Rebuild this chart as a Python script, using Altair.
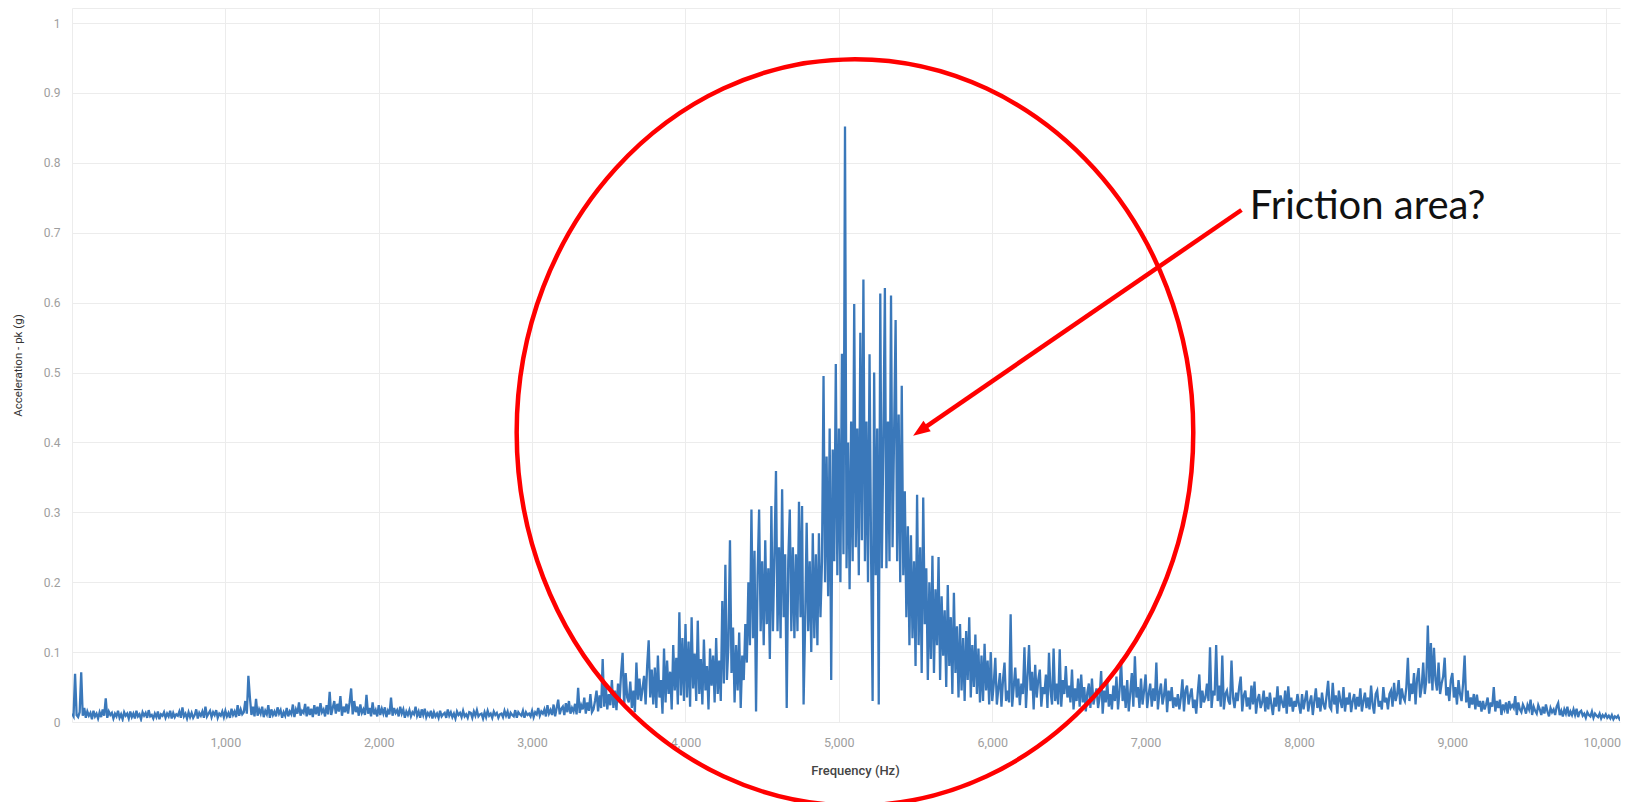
import altair as alt
import numpy as np
import pandas as pd

# ---------------- spectrum values (milli-g) ----------------
# segment A: 0 .. 3790 Hz, 10 Hz bins (one row = 200 Hz)
seg_a_start, seg_a_step = 0, 10
seg_a = [
    12, 8, 69, 10, 7, 14, 71, 9, 20, 6, 15, 9, 13, 4, 16, 8, 12, 5, 14, 7,
    18, 9, 34, 6, 15, 10, 13, 5, 12, 8, 16, 6, 11, 4, 14, 9, 12, 5, 15, 7,
    12, 5, 16, 8, 11, 4, 14, 9, 13, 6, 17, 8, 10, 5, 12, 7, 15, 4, 11, 9,
    14, 6, 12, 8, 16, 5, 13, 7, 11, 9, 15, 6, 21, 8, 12, 5, 14, 7, 13, 6,
    10, 18, 5, 13, 9, 15, 6, 22, 8, 12, 16, 7, 14, 10, 17, 6, 12, 9, 15, 7,
    16, 8, 13, 6, 19, 10, 15, 7, 24, 9, 18, 11, 14, 30, 12, 66, 35, 10, 22, 8,
    33, 9, 18, 12, 22, 7, 16, 11, 24, 6, 18, 10, 15, 8, 21, 12, 17, 6, 14, 9,
    20, 8, 15, 11, 25, 7, 18, 12, 28, 9, 16, 13, 26, 8, 22, 10, 19, 7, 24, 11,
    22, 9, 27, 14, 18, 8, 24, 11, 43, 10, 20, 30, 12, 26, 15, 37, 9, 22, 14, 26,
    12, 28, 48, 11, 30, 14, 22, 9, 25, 13, 18, 10, 39, 12, 20, 8, 28, 11, 17, 8,
    24, 10, 19, 12, 21, 7, 16, 11, 35, 9, 20, 13, 17, 8, 22, 12, 18, 6, 15, 10,
    17, 8, 14, 11, 22, 9, 15, 6, 18, 10, 19, 7, 13, 9, 16, 5, 14, 8, 12, 6,
    16, 8, 11, 13, 6, 18, 9, 14, 7, 12, 5, 15, 10, 13, 7, 16, 8, 11, 6, 14,
    13, 6, 15, 9, 17, 8, 11, 12, 5, 14, 7, 16, 9, 12, 6, 15, 10, 13, 6, 11,
    12, 7, 16, 9, 15, 5, 13, 10, 8, 17, 6, 14, 11, 9, 16, 6, 14, 10, 12, 8,
    16, 7, 14, 11, 20, 9, 15, 12, 18, 8, 24, 12, 17, 10, 25, 8, 20, 32, 11, 19,
    22, 10, 27, 14, 30, 12, 20, 15, 26, 11, 49, 13, 24, 18, 35, 12, 28, 16, 40, 14,
    18, 30, 45, 15, 38, 20, 90, 22, 52, 18, 40, 24, 60, 20, 45, 17, 55, 28, 70, 99,
    22, 70, 35, 28, 58, 20, 45, 14, 85, 32, 62, 30, 48, 66, 25, 80, 117, 35, 75, 25,
]

# segment B: 3800 .. 5990 Hz, 10 Hz bins (the friction hump, one row = 100 Hz)
seg_b_start, seg_b_step = 3800, 10
seg_b = [
    78, 20, 95, 35, 60, 12, 105, 28, 88, 40,
    72, 18, 110, 45, 92, 25, 157, 38, 120, 30,
    140, 35, 115, 22, 150, 48, 98, 30, 145, 40,
    90, 25, 118, 45, 80, 18, 105, 52, 95, 28,
    120, 40, 88, 30, 173, 55, 225, 60, 110, 260,
    70, 135, 28, 110, 45, 128, 20, 95, 60, 140,
    85, 200, 110, 304, 120, 245, 15, 210, 304, 130,
    230, 110, 260, 140, 220, 90, 309, 130, 240, 359,
    130, 250, 120, 333, 150, 240, 20, 230, 304, 130,
    250, 120, 240, 130, 315, 150, 309, 25, 140, 285,
    130, 230, 100, 270, 120, 240, 110, 270, 150, 230,
    495, 200, 380, 180, 420, 60, 390, 230, 512, 210,
    420, 200, 527, 240, 852, 220, 400, 190, 430, 230,
    598, 250, 420, 210, 557, 260, 633, 230, 430, 200,
    526, 240, 30, 500, 210, 420, 25, 613, 220, 400,
    621, 220, 430, 230, 610, 250, 410, 575, 230, 440,
    200, 481, 210, 330, 150, 280, 110, 267, 120, 230,
    80, 325, 110, 250, 70, 321, 140, 220, 60, 200,
    90, 238, 70, 190, 110, 236, 60, 180, 95, 160,
    50, 196, 80, 150, 40, 185, 70, 137, 35, 140,
    45, 120, 30, 130, 60, 150, 35, 110, 50, 125,
    40, 105, 28, 95, 30, 112, 45, 88, 25, 100,
]

# segment C: 6000 .. 10160 Hz, 10 Hz bins (one row = 200 Hz)
seg_c_start, seg_c_step = 6000, 10
seg_c = [
    30, 55, 92, 25, 48, 70, 22, 60, 85, 30, 45, 28, 154, 22, 50, 78, 35, 62, 24, 55,
    40, 107, 20, 65, 110, 45, 72, 18, 82, 35, 60, 75, 22, 50, 40, 68, 20, 99, 45, 25,
    105, 30, 55, 25, 104, 22, 60, 40, 80, 35, 52, 28, 75, 18, 48, 30, 62, 22, 68, 28,
    50, 15, 42, 55, 20, 62, 25, 38, 48, 20, 35, 73, 12, 45, 28, 58, 22, 40, 18, 52,
    30, 65, 18, 45, 89, 30, 52, 20, 60, 15, 42, 70, 22, 94, 35, 50, 20, 62, 25, 45,
    68, 20, 40, 55, 22, 48, 30, 85, 18, 42, 55, 25, 38, 62, 14, 45, 30, 50, 20, 35,
    22, 40, 18, 35, 61, 15, 45, 52, 25, 38, 48, 20, 32, 12, 42, 68, 20, 45, 28, 35,
    55, 30, 107, 20, 45, 38, 110, 30, 52, 22, 95, 18, 40, 45, 30, 25, 88, 35, 20, 42,
    30, 50, 65, 15, 38, 45, 22, 35, 18, 52, 25, 58, 12, 32, 40, 20, 28, 45, 15, 36,
    18, 42, 25, 10, 35, 22, 51, 15, 38, 28, 20, 45, 12, 51, 22, 35, 15, 30, 22, 40,
    25, 12, 40, 18, 32, 45, 15, 28, 38, 10, 30, 48, 20, 35, 15, 42, 25, 18, 38, 59,
    22, 18, 56, 25, 38, 12, 45, 30, 20, 50, 15, 35, 25, 42, 14, 30, 40, 18, 36, 22,
    48, 15, 30, 42, 20, 35, 18, 52, 25, 12, 40, 45, 22, 30, 18, 50, 28, 35, 18, 40,
    45, 22, 56, 30, 40, 60, 25, 48, 35, 30, 50, 92, 30, 55, 40, 70, 25, 62, 77, 35,
    50, 85, 40, 60, 138, 55, 113, 45, 106, 60, 45, 85, 40, 55, 65, 92, 38, 50, 30, 60,
    70, 35, 50, 25, 60, 40, 30, 55, 95, 28, 45, 20, 35, 25, 40, 18, 39, 22, 30, 15,
    30, 18, 25, 35, 12, 28, 22, 50, 15, 30, 20, 32, 10, 25, 18, 28, 12, 30, 20, 24,
    20, 37, 10, 28, 18, 14, 25, 20, 12, 24, 18, 32, 10, 22, 16, 12, 24, 18, 10, 22,
    12, 25, 15, 8, 20, 14, 18, 10, 22, 27, 10, 16, 8, 18, 12, 22, 8, 15, 10, 18,
    10, 19, 7, 14, 16, 9, 12, 6, 14, 10, 8, 15, 6, 12, 9, 7, 12, 5, 10, 7,
    11, 6, 9, 5, 10, 4, 8, 6, 9, 4, 7, 5, 8, 4, 6, 5, 6,
]

# axis ticks
x_ticks = [0, 1000, 2000, 3000, 4000, 5000, 6000, 7000, 8000, 9000, 10000]
y_ticks = [0, 0.1, 0.2, 0.3, 0.4, 0.5, 0.6, 0.7, 0.8, 0.9, 1.0, 1.0215]

# annotation anchor points (data units)
ellipse_center = (5105, 0.4143)
arrow_start = (7625, 0.7325)
arrow_shaft_end = (5548, 0.4195)
arrow_tip = (5484, 0.4097)
label_pos = (7679, 0.7192)
label_text = "Friction area?"

# ---------------- build table ----------------
freq = np.concatenate([
    seg_a_start + seg_a_step * np.arange(len(seg_a)),
    seg_b_start + seg_b_step * np.arange(len(seg_b)),
    seg_c_start + seg_c_step * np.arange(len(seg_c)),
])
amp = np.array(seg_a + seg_b + seg_c, dtype=float) / 1000.0
df = pd.DataFrame({"f": freq, "a": amp})

X_SCALE = alt.Scale(domain=[0, 10093], nice=False, zero=False)
Y_SCALE = alt.Scale(domain=[0, 1.0215], nice=False)

RED = "#ff0000"
BLUE = "#3a78ba"
GRID = "#ececec"

X_AXIS = alt.Axis(
    values=x_ticks,
    labelExpr="datum.value == 0 ? '' : format(datum.value, ',')",
    grid=True, gridColor=GRID, gridWidth=1,
    domain=False, ticks=False, tickSize=0,
    labelFont="Roboto", labelFontSize=12.5, labelColor="#9e9e9e",
    labelPadding=24.5, labelBaseline="alphabetic", labelFlush=False,
    labelOverlap=False,
    labelOffset={"condition": {"test": "datum.value == 10000", "value": -4}, "value": 0},
    titleFont="Roboto", titleFontSize=13,
    titleFontWeight=500, titleColor="#444444",
    titleX=783, titleY=52, titleAlign="center", titleBaseline="alphabetic",
)
Y_AXIS = alt.Axis(
    values=y_ticks,
    labelExpr="datum.value > 1.01 ? '' : format(datum.value, '.1~f')",
    grid=True, gridColor=GRID, gridWidth=1,
    domain=False, ticks=False, tickSize=0,
    labelFont="Roboto", labelFontSize=12, labelColor="#9e9e9e",
    labelPadding=12, labelFlush=False, labelOverlap=False,
    titleFont="Roboto", titleFontSize=11.5,
    titleFontWeight="normal", titleColor="#333333",
    titleX=-54, titleY=357, titleAngle=270, titleAlign="center",
    titleBaseline="middle",
)
X_TITLE = "Frequency (Hz)"
Y_TITLE = "Acceleration - pk (g)"


def xenc(field="f:Q"):
    return alt.X(field, scale=X_SCALE, axis=X_AXIS, title=X_TITLE)


def yenc(field="a:Q"):
    return alt.Y(field, scale=Y_SCALE, axis=Y_AXIS, title=Y_TITLE)


line = alt.Chart(df).mark_line(color=BLUE, strokeWidth=2.3, clip=True).encode(
    x=xenc(), y=yenc(),
)

ell_df = pd.DataFrame({"f": [ellipse_center[0]], "a": [ellipse_center[1]]})
ellipse = alt.Chart(ell_df).mark_point(
    shape="M -0.9065 0 A 0.9065 1 0 1 1 0.9065 0 A 0.9065 1 0 1 1 -0.9065 0 Z",
    size=557100, filled=False, stroke=RED, strokeWidth=4.5, opacity=1,
).encode(x=xenc(), y=yenc())

shaft_df = pd.DataFrame({
    "f": [arrow_start[0]], "a": [arrow_start[1]],
    "f2": [arrow_shaft_end[0]], "a2": [arrow_shaft_end[1]],
})
shaft = alt.Chart(shaft_df).mark_rule(color=RED, strokeWidth=4.5).encode(
    x=xenc(), y=yenc(), x2="f2:Q", y2="a2:Q",
)

tip_df = pd.DataFrame({"f": [arrow_tip[0]], "a": [arrow_tip[1]]})
head = alt.Chart(tip_df).mark_point(
    shape="M 0 0 L 0.38 1 L -0.38 1 Z",
    size=1156, filled=True, color=RED, opacity=1, angle=235.5,
).encode(x=xenc(), y=yenc())

lab_df = pd.DataFrame({"f": [label_pos[0]], "a": [label_pos[1]], "t": [label_text]})
label = alt.Chart(lab_df).mark_text(
    align="left", baseline="alphabetic", font="Lato", fontSize=40, color="#111111",
).encode(x=xenc(), y=yenc(), text="t:N")

chart = alt.layer(line, ellipse, shaft, head, label).properties(
    width=1548,
    height=714,
    padding={"left": 64, "top": 0, "right": 2, "bottom": 80},
    autosize=alt.AutoSizeParams(type="none"),
    background="white",
).configure_view(stroke=None)

chart.save("out.html", embed_options={"renderer": "svg", "actions": False})
